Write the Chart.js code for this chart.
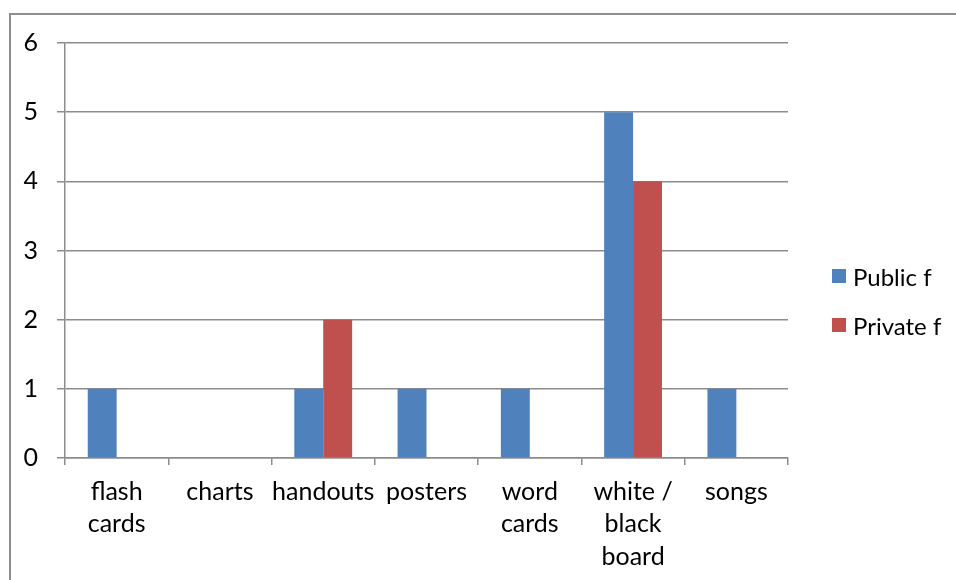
<!DOCTYPE html>
<html>
<head>
<meta charset="utf-8">
<script src="https://cdn.jsdelivr.net/npm/chart.js@4"></script>
<style>
    body { margin: 0; background: #fff; }
    #wrap { position: relative; width: 956px; height: 580px; overflow: hidden; }
    #frame { position: absolute; left: 9px; top: 13px; width: 980px; height: 600px; border: 2px solid #8e8e8e; box-sizing: border-box; }
    #legend { position: absolute; left: 832px; top: 266px; font-family: Lato, sans-serif; font-size: 24px; color: #000; }
    .item { display: flex; align-items: center; height: 20px; margin-bottom: 29px; white-space: nowrap; }
    .swatch { width: 14px; height: 14px; margin-right: 7px; }
</style>
</head>
<body>
<div id="wrap">
    <div id="frame"></div>
    <canvas id="chart" width="956" height="580"></canvas>
    <div id="legend"></div>
</div>
<script>
// Categories and series values
const categories = [['flash', 'cards'], 'charts', 'handouts', 'posters', ['word', 'cards'], ['white /', 'black', 'board'], 'songs'];
const seriesNames = ['Public f', 'Private f'];
const publicValues = [1, 0, 1, 1, 1, 5, 1];
const privateValues = [0, 0, 2, 0, 0, 4, 0];
const yTicks = [0, 1, 2, 3, 4, 5, 6];

const colors = ['#4f81bd', '#c0504d'];
const gridColor = '#8c8c8c';
const font = { family: 'Lato, sans-serif', size: 25 };

const ctx = document.getElementById('chart').getContext('2d');
const chart = new Chart(ctx, {
    type: 'bar',
    data: {
        labels: categories,
        datasets: [
            { label: seriesNames[0], data: publicValues, backgroundColor: colors[0] },
            { label: seriesNames[1], data: privateValues, backgroundColor: colors[1] }
        ]
    },
    options: {
        responsive: false,
        animation: false,
        categoryPercentage: 0.56,
        barPercentage: 1,
        layout: { padding: { top: 43, right: 168, bottom: 0, left: 0 } },
        plugins: {
            legend: { display: false },
            tooltip: { enabled: false }
        },
        scales: {
            x: {
                grid: { drawOnChartArea: false, color: gridColor, lineWidth: 1.5, tickLength: 7 },
                border: { color: gridColor, width: 1.5 },
                ticks: { color: '#000', font: { ...font, lineHeight: 1.29 }, maxRotation: 0, autoSkip: false, padding: 11 },
                afterFit: scale => { scale.height = 122; }
            },
            y: {
                min: 0,
                max: yTicks[yTicks.length - 1],
                grid: { color: gridColor, lineWidth: 1.5, tickLength: 8 },
                border: { color: gridColor, width: 1.5 },
                ticks: { stepSize: 1, color: '#000', font: font, padding: 19 },
                afterFit: scale => { scale.width = 65; }
            }
        }
    }
});

// Legend built from the series names and colours
document.getElementById('legend').innerHTML = seriesNames.map((name, i) => `
    <div class="item"><span class="swatch" style="background:${colors[i]}"></span>${name}</div>
`).join('');
</script>
</body>
</html>
